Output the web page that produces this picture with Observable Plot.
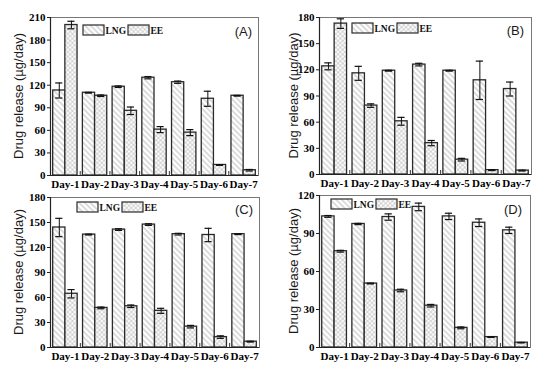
<!DOCTYPE html>
<html><head><meta charset="utf-8">
<script src="https://cdn.jsdelivr.net/npm/d3@7"></script>
<script src="https://cdn.jsdelivr.net/npm/@observablehq/plot@0.6"></script>
<style>
html,body{margin:0;padding:0;background:#fff;}
#fig{position:relative;width:554px;height:366px;overflow:hidden;background:#fff;}
#fig svg{position:absolute;}
</style></head><body><div id="fig"></div>
<script>
// ---- data ----
const days = ["Day-1","Day-2","Day-3","Day-4","Day-5","Day-6","Day-7"];
const seriesNames = ["LNG","EE"];
const yLabel = "Drug release (µg/day)";

const lngA    = [113, 110, 118, 130, 124, 102, 106];
const lngAErr = [10, 0.5, 1, 1.5, 1.5, 10, 0.5];
const eeA     = [200, 106, 86, 61, 57, 14, 7];
const eeAErr  = [5, 1, 5, 4, 4, 0.5, 1];
const ticksA  = [0, 30, 60, 90, 120, 150, 180, 210];

const lngB    = [124, 116, 119, 126, 119, 108, 98];
const lngBErr = [4, 8, 0.5, 1.5, 0.5, 22, 8];
const eeB     = [173, 79, 61, 36, 17, 5, 4.5];
const eeBErr  = [5.5, 2, 4.5, 3, 1.5, 0.5, 0.5];
const ticksB  = [0, 30, 60, 90, 120, 150, 180];

const lngC    = [144, 135.5, 141.5, 147.5, 136, 135, 136];
const lngCErr = [11, 0.5, 1, 1, 1, 8, 0.5];
const eeC     = [64.5, 47.5, 49.5, 44, 25, 12.5, 7];
const eeCErr  = [5, 1, 1.5, 3, 1.5, 1.5, 0.5];
const ticksC  = [0, 30, 60, 90, 120, 150, 180];

const lngD    = [103.5, 97.5, 103, 111, 103.5, 98.5, 92.5];
const lngDErr = [0.7, 0.5, 2.5, 3, 2.5, 3, 2.5];
const eeD     = [76, 50.5, 45, 33, 15.5, 8.2, 3.8];
const eeDErr  = [0.7, 0.3, 1, 1, 0.7, 0.2, 0.2];
const ticksD  = [0, 30, 60, 90, 120];

const panels = [
  {key:"A", lng:lngA, lngErr:lngAErr, ee:eeA, eeErr:eeAErr, ticks:ticksA},
  {key:"B", lng:lngB, lngErr:lngBErr, ee:eeB, eeErr:eeBErr, ticks:ticksB},
  {key:"C", lng:lngC, lngErr:lngCErr, ee:eeC, eeErr:eeCErr, ticks:ticksC},
  {key:"D", lng:lngD, lngErr:lngDErr, ee:eeD, eeErr:eeDErr, ticks:ticksD}
];

// ---- layout (style only) ----
const layout = {
  A:{left:0,   top:0,   height:190, ml:50, mr:19, mt:17, mb:15, legX:83, legY:25, tagX:252, tagY:31, labX:18},
  B:{left:277, top:0,   height:190, ml:42, mr:23, mt:17, mb:16, legX:75, legY:23, tagX:247, tagY:30, labX:16},
  C:{left:0,   top:183, height:183, ml:50, mr:18, mt:14, mb:19, legX:77, legY:19, tagX:253, tagY:26, labX:18},
  D:{left:277, top:183, height:183, ml:42, mr:24, mt:12, mb:19, legX:54, legY:16, tagX:245, tagY:26, labX:16}
};
const BW = 0.41, CAP = 0.12;

function patternDefs(id) {
  const defs = d3.create("svg:defs");
  const p1 = defs.append("pattern").attr("id", `lng-${id}`).attr("patternUnits","userSpaceOnUse")
    .attr("width",4).attr("height",4).attr("patternTransform","rotate(-45)");
  p1.append("rect").attr("width",4).attr("height",4).attr("fill","#fff");
  p1.append("line").attr("x1",2).attr("y1",0).attr("x2",2).attr("y2",4).attr("stroke","#a6a6a6").attr("stroke-width",0.8);
  const p2 = defs.append("pattern").attr("id", `ee-${id}`).attr("patternUnits","userSpaceOnUse")
    .attr("width",3.2).attr("height",3.2).attr("patternTransform","rotate(45)");
  p2.append("rect").attr("width",3.2).attr("height",3.2).attr("fill","#fff");
  p2.append("line").attr("x1",1.6).attr("y1",0).attr("x2",1.6).attr("y2",3.2).attr("stroke","#b8b8b8").attr("stroke-width",0.6);
  p2.append("line").attr("x1",0).attr("y1",1.6).attr("x2",3.2).attr("y2",1.6).attr("stroke","#b8b8b8").attr("stroke-width",0.6);
  return defs.node();
}

const fig = document.getElementById("fig");

for (const p of panels) {
  const L = layout[p.key];
  const rows = [];
  days.forEach((d, k) => {
    rows.push({day:d, i:k+1, series:seriesNames[0], value:p.lng[k], err:p.lngErr[k]});
    rows.push({day:d, i:k+1, series:seriesNames[1], value:p.ee[k], err:p.eeErr[k]});
  });
  const lngRows = rows.filter(r => r.series === "LNG");
  const eeRows = rows.filter(r => r.series === "EE");
  const cx = r => r.i + (r.series === "LNG" ? -BW/2 : BW/2);
  const innerH = L.height - L.mt - L.mb;
  const bounds = d3.range(1.5, days.length);
  const x0 = 0.5, x1 = days.length + 0.5;

  const svg = Plot.plot({
    width: 277, height: L.height,
    marginLeft: L.ml, marginRight: L.mr, marginTop: L.mt, marginBottom: L.mb,
    x: {domain: [x0, x1]},
    y: {domain: [0, d3.max(p.ticks)]},
    style: {fontFamily: "'Liberation Serif', 'Times New Roman', serif", fontSize: "11px", fontWeight: "bold",
            background: "transparent", overflow: "visible", color: "#000"},
    marks: [
      () => patternDefs(p.key),
      Plot.rectY(lngRows, {x1: r => r.i - BW, x2: r => r.i, y: "value", fill: `url(#lng-${p.key})`, stroke: "#2a2a2a", strokeWidth: 1.3}),
      Plot.rectY(eeRows, {x1: r => r.i, x2: r => r.i + BW, y: "value", fill: `url(#ee-${p.key})`, stroke: "#2a2a2a", strokeWidth: 1.3}),
      Plot.ruleX(rows, {x: cx, y1: r => r.value - r.err, y2: r => r.value + r.err, stroke: "#111", strokeWidth: 1}),
      Plot.ruleY(rows, {y: r => r.value + r.err, x1: r => cx(r) - CAP, x2: r => cx(r) + CAP, stroke: "#111", strokeWidth: 1.2}),
      Plot.ruleY(rows, {y: r => r.value - r.err, x1: r => cx(r) - CAP, x2: r => cx(r) + CAP, stroke: "#111", strokeWidth: 1.2}),
      Plot.tickX(bounds, {x: d => d, insetTop: innerH - 4, stroke: "#333"}),
      Plot.frame({stroke: "#777", strokeWidth: 1}),
      Plot.ruleX([x0], {stroke: "#222", strokeWidth: 1.2}),
      Plot.ruleY([0], {stroke: "#222", strokeWidth: 1.2}),
      Plot.axisY(p.ticks, {tickSize: 3, tickPadding: 2, label: null, stroke: "#222"}),
      Plot.axisX(d3.range(1, days.length + 1), {tickFormat: i => days[i - 1], tickSize: 0, tickPadding: 5, label: null})
    ]
  });
  svg.style.left = L.left + "px";
  svg.style.top = L.top + "px";
  fig.appendChild(svg);

  const s = d3.select(svg);
  // y label
  const frameMid = L.mt + innerH / 2;
  s.append("text").attr("transform", `translate(${L.labX},${frameMid}) rotate(-90)`)
    .attr("text-anchor", "middle").attr("dominant-baseline", "central")
    .attr("font-family", "'Liberation Sans', Arial, sans-serif").attr("font-weight", "normal")
    .attr("font-size", 13).attr("fill", "#1a1a1a").text(yLabel);
  // panel tag
  s.append("text").attr("x", L.tagX).attr("y", L.tagY).attr("text-anchor", "end").attr("dominant-baseline", "central")
    .attr("font-family", "'Liberation Sans', Arial, sans-serif").attr("font-weight", "normal")
    .attr("font-size", 13).attr("fill", "#1a1a1a").text(`(${p.key})`);
  // legend
  const offs = [{sw:0, tx:22.5}, {sw:45, tx:67.5}];
  seriesNames.forEach((name, j) => {
    s.append("rect").attr("x", L.legX + offs[j].sw).attr("y", L.legY).attr("width", 21).attr("height", 10)
      .attr("fill", `url(#${name === "LNG" ? "lng" : "ee"}-${p.key})`).attr("stroke", "#2a2a2a").attr("stroke-width", 1.2);
    s.append("text").attr("x", L.legX + offs[j].tx).attr("y", L.legY + 5.5).attr("dominant-baseline", "central")
      .attr("text-anchor", "start")
      .attr("font-size", 9.5).attr("font-weight", "bold").attr("fill", "#111").text(name);
  });
}
</script></body></html>
